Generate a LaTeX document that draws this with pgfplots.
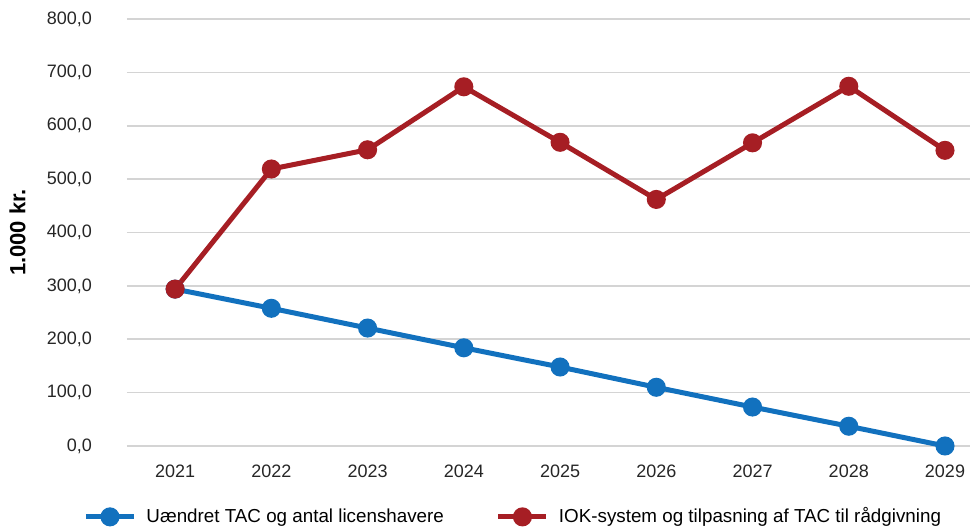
\documentclass[border=0pt]{standalone}
\usepackage{pgfplots}
\pgfplotsset{compat=1.18}
\usepackage{fontspec}
\setmainfont{Liberation Sans}
\definecolor{tacblue}{RGB}{18,113,190}
\definecolor{iokred}{RGB}{166,30,36}
\definecolor{gridgray}{RGB}{212,212,212}
\begin{document}
\begin{tikzpicture}
\path[use as bounding box] (-63.5pt,-41pt) rectangle (426pt,223pt);
\begin{axis}[
    at={(0,0)}, anchor=south west,
    scale only axis,
    width=421.5pt, height=213.5pt,
    xmin=-0.5, xmax=8.26,
    ymin=0, ymax=800,
    ytick={0,100,...,800},
    xtick={0,...,8},
    xticklabels={2021,2022,2023,2024,2025,2026,2027,2028,2029},
    axis line style={draw=none},
    major tick length=0pt,
    ymajorgrids,
    grid style={gridgray, line width=0.8pt},
    tick label style={font=\fontsize{9}{10}\selectfont, text=black!85},
    xticklabel style={yshift=-6pt},
    yticklabel style={xshift=-14pt},
    /pgf/number format/.cd, use comma, fixed, fixed zerofill, precision=1, 1000 sep={}, assume math mode=true,
    /pgfplots/.cd,
    ylabel={\bfseries 1.000 kr.},
    ylabel style={font=\fontsize{11}{12}\selectfont, at={(axis description cs:-0.112,0.5)}},
    legend style={draw=none, at={(0.457,-0.166)}, anchor=center,
        font=\fontsize{9.4}{10}\selectfont, column sep=0pt,
        nodes={inner sep=0pt},
        /tikz/every odd column/.append style={column sep=5pt},
        /tikz/every even column/.append style={column sep=26pt}},
    legend columns=2,
    legend image code/.code={
        \draw[#1, mark=none] (0pt,0pt) -- (24pt,0pt);
        \draw[#1, only marks] plot coordinates {(12pt,0pt)};
    },
    clip=false
]
\addplot[tacblue, line width=2.5pt, mark=*, mark size=3.5pt, mark options={solid}] coordinates {
    (0,294) (1,258) (2,221) (3,184) (4,148) (5,110) (6,73) (7,37) (8,0)
};
\addlegendentry{Uændret TAC og antal licenshavere}
\addplot[iokred, line width=2.5pt, mark=*, mark size=3.5pt, mark options={solid}] coordinates {
    (0,294) (1,519) (2,555) (3,673) (4,569) (5,462) (6,568) (7,674) (8,554)
};
\addlegendentry{IOK-system og tilpasning af TAC til rådgivning}
\end{axis}
\end{tikzpicture}
\end{document}
